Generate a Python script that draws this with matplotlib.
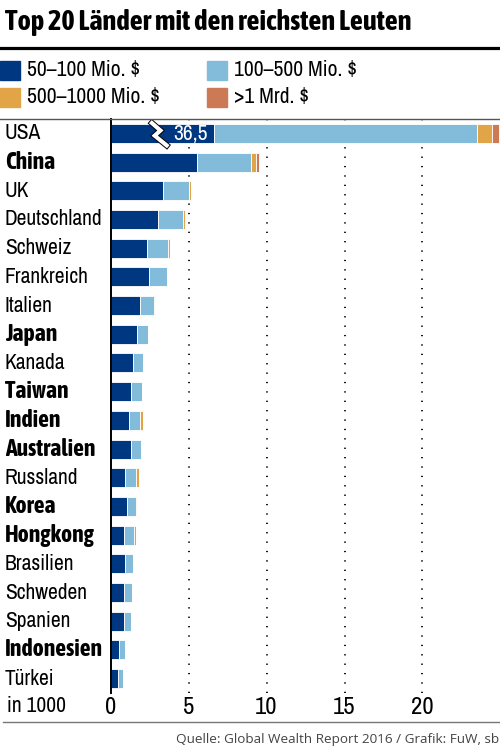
import matplotlib
matplotlib.use("Agg")
import matplotlib.pyplot as plt
import matplotlib.patheffects as pe
from matplotlib import font_manager
from matplotlib.lines import Line2D
from matplotlib.transforms import blended_transform_factory

# schmale Schrift suchen (Referenz nutzt eine Condensed-Schrift), nur aufrechte Schnitte
weights = {}
for f in font_manager.fontManager.ttflist:
    if f.style != "normal":
        continue
    if "Narrow" in f.name or "Condensed" in f.name or f.stretch in ("condensed", 75):
        w = f.weight if isinstance(f.weight, int) else font_manager.weight_dict.get(f.weight, 400)
        weights.setdefault(f.name, set()).add(w)
FAMILY = "Roboto"
BOLD_FAMILY = "Roboto"
for name, ws in sorted(weights.items()):
    if any(w <= 500 for w in ws):
        FAMILY = name
        break
if any(w >= 600 for w in weights.get(FAMILY, ())):
    BOLD_FAMILY = FAMILY
else:
    for name, ws in sorted(weights.items()):
        if any(600 <= w <= 800 for w in ws):
            BOLD_FAMILY = name
            break
REG_WEIGHT = 500 if 500 in weights.get(FAMILY, ()) else "normal"
plt.rcParams["font.family"] = [FAMILY, "DejaVu Sans"]
plt.rcParams["font.weight"] = REG_WEIGHT

# anzahl personen in 1000, nach vermoegensklasse
countries = ["USA", "China", "UK", "Deutschland", "Schweiz", "Frankreich", "Italien",
             "Japan", "Kanada", "Taiwan", "Indien", "Australien", "Russland", "Korea",
             "Hongkong", "Brasilien", "Schweden", "Spanien", "Indonesien", "Türkei"]
bold = {"China", "Japan", "Taiwan", "Indien", "Australien", "Korea", "Hongkong", "Indonesien"}

seg_50_100 = [36.5, 5.56, 3.38, 3.06, 2.32, 2.47, 1.89, 1.70, 1.46, 1.29,
              1.17, 1.31, 0.95, 1.04, 0.88, 0.91, 0.88, 0.88, 0.56, 0.48]
seg_100_500 = [16.86, 3.45, 1.63, 1.57, 1.35, 1.13, 0.90, 0.70, 0.64, 0.73,
               0.74, 0.63, 0.68, 0.59, 0.61, 0.55, 0.48, 0.45, 0.37, 0.32]
seg_500_1000 = [0.97, 0.32, 0.12, 0.15, 0.17, 0.0, 0.05, 0.0, 0.0, 0.0,
                0.20, 0.0, 0.18, 0.06, 0.12, 0.0, 0.0, 0.0, 0.0, 0.0]
seg_1000 = [0.45, 0.20, 0.0, 0.0, 0.0, 0.0, 0.0, 0.0, 0.0, 0.0,
            0.0, 0.0, 0.0, 0.0, 0.0, 0.0, 0.0, 0.0, 0.0, 0.0]
usa_break = 6.63   # USA-Balken ist gekuerzt dargestellt

legend_labels = ["50–100 Mio. $", "100–500 Mio. $", "500–1000 Mio. $", ">1 Mrd. $"]
colors = ["#003781", "#83bcdb", "#e1a548", "#cc7a56"]
xticks = [0, 5, 10, 15, 20]

W, H = 500, 755
fig = plt.figure(figsize=(W / 100, H / 100), dpi=100)
renderer = fig.canvas.get_renderer()


def fit_size(s, target_px, base=15, family=None):
    fam = [family or FAMILY, "DejaVu Sans"]
    t = fig.text(0, 0, s, fontsize=base, family=fam, fontweight="bold" if family else REG_WEIGHT)
    w = t.get_window_extent(renderer).width
    t.remove()
    return base * target_px / w


fs_lab = min(fit_size("Deutschland", 98), 17)
fs_bold = min(fit_size("Australien", 93, family=BOLD_FAMILY), 17)
fs_title = min(fit_size("Top 20 Länder mit den reichsten Leuten", 405, 20, BOLD_FAMILY), 24)
fs_tick = fs_lab * 1.15
BOLD = dict(family=[BOLD_FAMILY, "DejaVu Sans"], fontweight="bold")

x0, top, bot = 110.5, 119, 693
scale = 15.6
ax = fig.add_axes([x0 / W, 1 - bot / H, (W - x0) / W, (bot - top) / H])
ax.set_xlim(0, (W - x0) / scale)
ax.set_ylim(len(countries) - 0.5, -0.5)

for v in xticks[1:]:
    ax.axvline(v, color="black", lw=1.3, linestyle=(0, (0.7, 4.5)), zorder=0)

shown_first = [usa_break] + seg_50_100[1:]
left = [0.0] * len(countries)
for seg, c in zip([shown_first, seg_100_500, seg_500_1000, seg_1000], colors):
    ax.barh(range(len(countries)), seg, left=left, height=0.66, color=c,
            edgecolor="white", linewidth=0.6, zorder=2)
    left = [l + s for l, s in zip(left, seg)]

# Achsenbruch beim USA-Balken
zx = usa_break * 0.40
zig = Line2D([zx, zx + 0.55, zx + 0.18, zx + 0.95], [-0.36, -0.1, 0.08, 0.42],
             color="white", lw=3.0, zorder=4, solid_joinstyle="miter",
             path_effects=[pe.Stroke(linewidth=4.4, foreground="black"), pe.Normal()])
ax.add_line(zig)
ax.text(zx + 1.4, 0.02, f"{seg_50_100[0]:.1f}".replace(".", ","), color="white",
        fontsize=fs_lab, va="center", ha="left", zorder=5)

for s in ["top", "right", "bottom"]:
    ax.spines[s].set_visible(False)
ax.spines["left"].set_linewidth(1.4)
ax.set_yticks([])
ax.set_xticks(xticks)
ax.tick_params(axis="x", length=0, pad=3, labelsize=fs_tick)

tr = blended_transform_factory(fig.transFigure, ax.transData)
for i, name in enumerate(countries):
    if name in bold:
        ax.text(5 / W, i, name, transform=tr, ha="left", va="center", fontsize=fs_bold, **BOLD)
    else:
        ax.text(5 / W, i, name, transform=tr, ha="left", va="center", fontsize=fs_lab)
fig.text(7 / W, 1 - 706 / H, "in 1000", fontsize=fs_lab, va="center", ha="left")

fig.text(5 / W, 1 - 23 / H, "Top 20 Länder mit den reichsten Leuten",
         fontsize=fs_title, va="center", ha="left", **BOLD)
fig.add_artist(Line2D([0, 1], [1 - 47.5 / H] * 2, color="black", lw=2.3))
fig.add_artist(Line2D([0, 1], [1 - 118.5 / H] * 2, color="#555555", lw=1.0))
fig.add_artist(Line2D([3 / W, 1], [1 - 722 / H] * 2, color="#777777", lw=1.0))

pos = [(0, 70), (207, 70), (0, 97), (207, 97)]
for (px, py), lab, c in zip(pos, legend_labels, colors):
    fig.patches.append(plt.Rectangle((px / W, 1 - (py + 9.5) / H), 20 / W, 19 / H,
                                     transform=fig.transFigure, color=c, figure=fig))
    fig.text((px + 27) / W, 1 - py / H, lab, fontsize=fs_lab, va="center", ha="left")

fig.text(499 / W, 1 - 739 / H, "Quelle: Global Wealth Report 2016 / Grafik: FuW, sb",
         fontsize=9.7, color="#444444", ha="right", va="center",
         family=["Open Sans", "DejaVu Sans"], fontweight="normal")

fig.savefig("out.png", dpi=100)
